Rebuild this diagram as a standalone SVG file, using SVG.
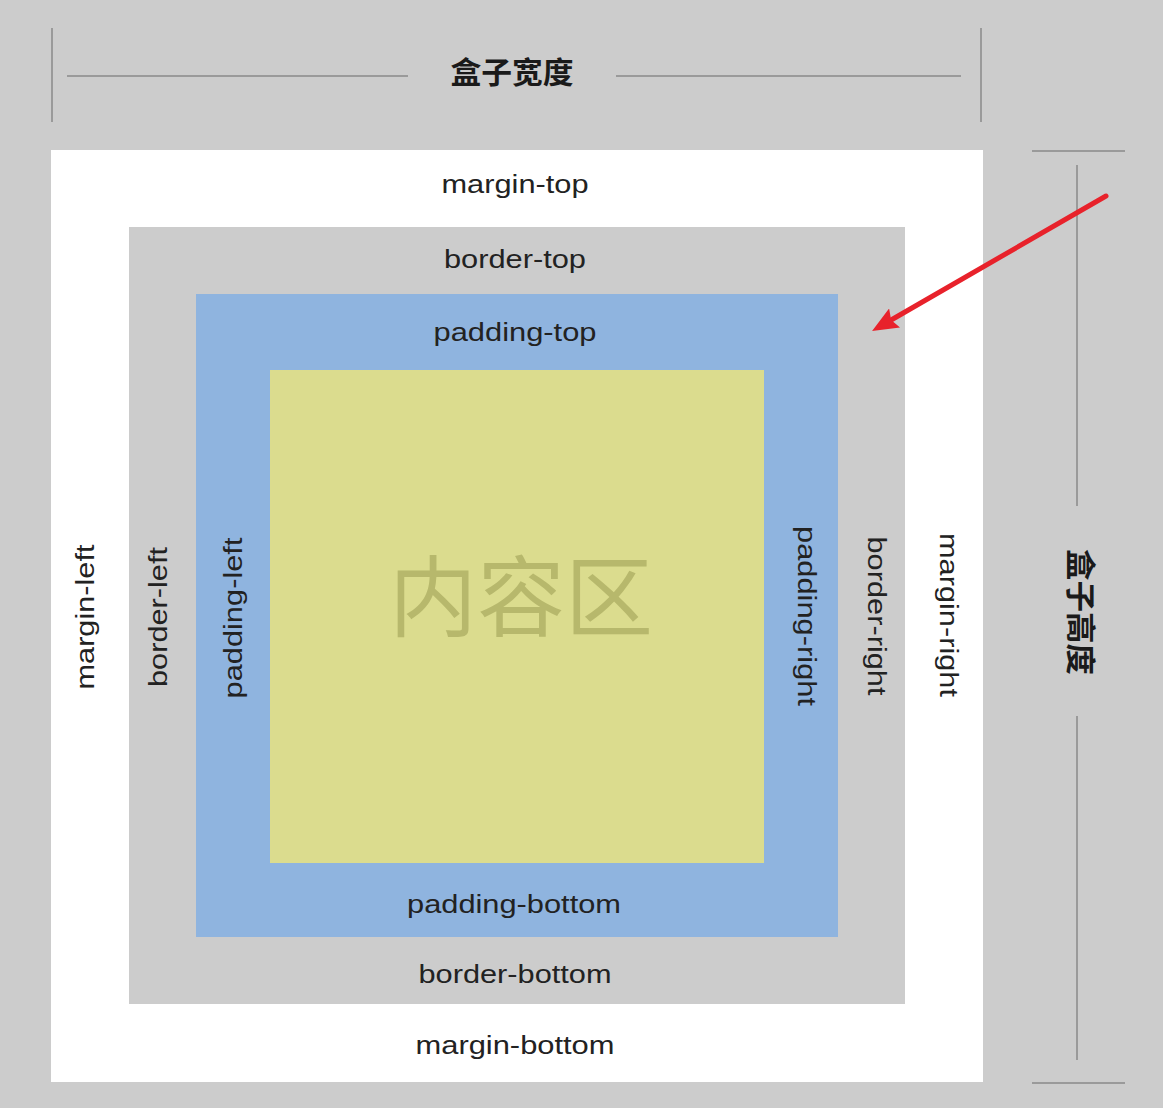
<svg xmlns="http://www.w3.org/2000/svg" width="1163" height="1108" viewBox="0 0 1163 1108">
<defs>
<style>
.lbl{font-family:"Liberation Sans",Arial,Helvetica,sans-serif;font-size:26px;fill:#222;text-anchor:middle}
.dim{stroke:#9a9a9a;stroke-width:2;fill:none}
.cjk{font-family:"Noto Sans CJK SC","Noto Sans CJK JP",sans-serif;text-anchor:middle}
.ttl{font-size:30px;font-weight:bold;fill:#1a1a1a}
</style>
<marker id="ah" viewBox="0 0 26 22" refX="3" refY="11" markerWidth="26" markerHeight="22" markerUnits="userSpaceOnUse" orient="auto">
<path d="M0,0 L26,11 L0,22 L4,11 Z" fill="#e8222b"/>
</marker>
</defs>
<rect x="0" y="0" width="1163" height="1108" fill="#cccccc"/>
<g id="margin">
<rect x="51" y="150" width="932" height="932" fill="#ffffff"/>
<text class="lbl" x="515" y="193" textLength="147" lengthAdjust="spacingAndGlyphs">margin-top</text>
<text class="lbl" x="515" y="1054" textLength="199" lengthAdjust="spacingAndGlyphs">margin-bottom</text>
<text class="lbl" transform="translate(94,617) rotate(-90)" textLength="145" lengthAdjust="spacingAndGlyphs">margin-left</text>
<text class="lbl" transform="translate(940,615) rotate(90)" textLength="164" lengthAdjust="spacingAndGlyphs">margin-right</text>
</g>
<g id="border">
<rect x="129" y="227" width="776" height="777" fill="#cccccc"/>
<text class="lbl" x="515" y="268" textLength="142" lengthAdjust="spacingAndGlyphs">border-top</text>
<text class="lbl" x="515" y="983" textLength="193" lengthAdjust="spacingAndGlyphs">border-bottom</text>
<text class="lbl" transform="translate(167,617) rotate(-90)" textLength="140" lengthAdjust="spacingAndGlyphs">border-left</text>
<text class="lbl" transform="translate(868,616) rotate(90)" textLength="159" lengthAdjust="spacingAndGlyphs">border-right</text>
</g>
<g id="padding">
<rect x="196" y="294" width="642" height="643" fill="#8fb4df"/>
<text class="lbl" x="515" y="341" textLength="163" lengthAdjust="spacingAndGlyphs">padding-top</text>
<text class="lbl" x="514" y="913" textLength="214" lengthAdjust="spacingAndGlyphs">padding-bottom</text>
<text class="lbl" transform="translate(242,618) rotate(-90)" textLength="161" lengthAdjust="spacingAndGlyphs">padding-left</text>
<text class="lbl" transform="translate(798,616) rotate(90)" textLength="180" lengthAdjust="spacingAndGlyphs">padding-right</text>
</g>
<g id="content">
<rect x="270" y="370" width="494" height="493" fill="#dbdc8e"/>
<text class="cjk" x="521" y="629" font-size="88" fill="#b7b86c">内容区</text>
</g>
<g id="width-dimension">
<line class="dim" x1="52" y1="28" x2="52" y2="122"/>
<line class="dim" x1="981" y1="28" x2="981" y2="122"/>
<line class="dim" x1="67" y1="76" x2="408" y2="76"/>
<line class="dim" x1="616" y1="76" x2="961" y2="76"/>
<text class="cjk ttl" x="512" y="83" textLength="123" lengthAdjust="spacingAndGlyphs">盒子宽度</text>
</g>
<g id="height-dimension">
<line class="dim" x1="1032" y1="151" x2="1125" y2="151"/>
<line class="dim" x1="1032" y1="1083" x2="1125" y2="1083"/>
<line class="dim" x1="1077" y1="165" x2="1077" y2="506"/>
<line class="dim" x1="1077" y1="716" x2="1077" y2="1060"/>
<text class="cjk ttl" transform="translate(1070,612) rotate(90)" textLength="126" lengthAdjust="spacingAndGlyphs">盒子高度</text>
</g>
<g id="connectors">
<line x1="1106" y1="196" x2="892" y2="319.5" stroke="#e8222b" stroke-width="5" stroke-linecap="round" marker-end="url(#ah)"/>
</g>
</svg>
